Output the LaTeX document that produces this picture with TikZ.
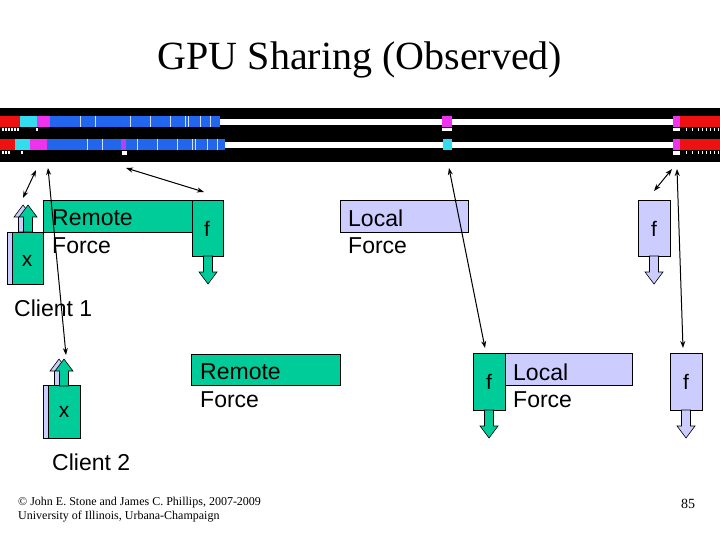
\documentclass[tikz,border=0pt]{standalone}
\usepackage{fontspec}
\setmainfont{Liberation Serif}
\newfontfamily\sansf{Liberation Sans}
\usetikzlibrary{arrows.meta}
\definecolor{grn}{HTML}{00CC99}
\definecolor{lav}{HTML}{CCCCFF}
\definecolor{tblue}{HTML}{2266EE}
\definecolor{tcyan}{HTML}{33DDEE}
\definecolor{tmag}{HTML}{EE33EE}
\definecolor{tred}{HTML}{EE1111}
\begin{document}
\begin{tikzpicture}[x=1pt,y=-1pt,
  box/.style={draw=black,line width=0.6pt},
  lbl/.style={font=\sansf\fontsize{23}{27}\selectfont,inner sep=0pt,anchor=west},
  small/.style={font=\sansf\fontsize{21}{24}\selectfont,inner sep=0pt},
  uparr/.pic={\draw[line width=0.6pt,fill=#1] (0,0)--(9,12)--(4.5,12)--(4.5,27)--(-4.5,27)--(-4.5,12)--(-9,12)--cycle;},
  dnarr/.pic={\draw[line width=0.6pt,fill=#1] (0,0)--(9,-12)--(4.5,-12)--(4.5,-28)--(-4.5,-28)--(-4.5,-12)--(-9,-12)--cycle;},
  link/.style={{Stealth[length=7pt,width=5pt]}-{Stealth[length=7pt,width=5pt]},line width=1pt}]
\useasboundingbox (0,0) rectangle (720,540);

% title
\node[font=\fontsize{40}{44}\selectfont] (title) at (360,60) {GPU Sharing (Observed)};

% timeline band
\fill[black] (0,108) rectangle (720,162);
\fill[white] (0,119) rectangle (720,125);
\fill[white] (0,142) rectangle (720,148);
\fill[tred] (0,116) rectangle (20,127);
\fill[tcyan] (20,116) rectangle (37,127);
\fill[tmag] (37,116) rectangle (50,127);
\fill[tblue] (50,116) rectangle (220,127);
\fill[tred] (0,139) rectangle (15,150);
\fill[tcyan] (15,139) rectangle (30,150);
\fill[tmag] (30,139) rectangle (47,150);
\fill[tblue] (47,139) rectangle (225,150);
\fill[tmag!70!tblue] (121,139) rectangle (126,150);
\fill[tmag] (442,116) rectangle (452,127);
\fill[tcyan] (443,139) rectangle (452,150);
\fill[tmag] (673,116) rectangle (680,127);
\fill[tred] (680,116) rectangle (720,127);
\fill[tmag] (673,139) rectangle (680,150);
\fill[tred] (680,139) rectangle (720,150);
\foreach \t in {80,95,130,150,170,185,188,200,210}
  {\draw[white!80!tblue,line width=0.4pt] (\t,116) -- (\t,127);
   \draw[white!80!tblue,line width=0.4pt] (\t+7,139) -- (\t+7,150);}
\foreach \t in {2,5,8,11,14,17,36}
  \fill[white] (\t,128) rectangle (\t+1.5,131);
\foreach \t in {2,5,8,21}
  \fill[white] (\t,151) rectangle (\t+1.5,154);
\fill[white] (122,151) rectangle (127,155);
\fill[white] (442,128) rectangle (452,131);
\fill[white] (673,128) rectangle (680,131);
\fill[white] (673,151) rectangle (680,155);
\foreach \t in {686,692,698,702,706,710,714,718}
  {\fill[white] (\t,128) rectangle (\t+1,131);
   \fill[white] (\t,151) rectangle (\t+1,154);}

% client 1
\fill[lav,draw=black,line width=0.6pt] (7,232) rectangle (12,284);
\pic at (23,205) {uparr=lav};
\node[box,fill=grn,minimum width=31pt,minimum height=52pt,inner sep=0pt,anchor=north west] (x1) at (12,232) {};
\node[small] at (27,261) {x};
\pic at (28,205) {uparr=grn};
\node[box,fill=grn,minimum width=149pt,minimum height=32pt,inner sep=0pt,anchor=north west] (rf1) at (43,200) {};
\node[lbl] at (52,218) {Remote};
\node[lbl] at (52,246) {Force};
\node[box,fill=grn,minimum width=31pt,minimum height=56pt,inner sep=0pt,anchor=north west] (f1) at (192,200) {};
\node[small] at (207,229) {f};
\pic at (208,284) {dnarr=grn};

\node[box,fill=lav,minimum width=128pt,minimum height=32pt,inner sep=0pt,anchor=north west] (lf1) at (340,200) {};
\node[lbl] at (348,218) {Local};
\node[lbl] at (348,246) {Force};
\node[box,fill=lav,minimum width=32pt,minimum height=56pt,inner sep=0pt,anchor=north west] (f2) at (638,200) {};
\node[small] at (654,229) {f};
\pic at (654,284) {dnarr=lav};

\node[lbl] (c1) at (14,308) {Client 1};

% client 2
\fill[lav,draw=black,line width=0.6pt] (43,385) rectangle (48,438);
\pic at (59,359) {uparr=lav};
\node[box,fill=grn,minimum width=32pt,minimum height=53pt,inner sep=0pt,anchor=north west] (x2) at (48,385) {};
\node[small] at (64,412) {x};
\pic at (64,359) {uparr=grn};
\node[box,fill=grn,minimum width=149pt,minimum height=31pt,inner sep=0pt,anchor=north west] (rf2) at (191,354) {};
\node[lbl] at (200,372) {Remote};
\node[lbl] at (200,400) {Force};

\node[box,fill=grn,minimum width=32pt,minimum height=57pt,inner sep=0pt,anchor=north west] (f3) at (473,353) {};
\node[small] at (489,382) {f};
\pic at (489,438) {dnarr=grn};
\node[box,fill=lav,minimum width=127pt,minimum height=32pt,inner sep=0pt,anchor=north west] (lf2) at (505,353) {};
\node[lbl] at (513,372) {Local};
\node[lbl] at (513,400) {Force};
\node[box,fill=lav,minimum width=32pt,minimum height=57pt,inner sep=0pt,anchor=north west] (f4) at (670,353) {};
\node[small] at (686,382) {f};
\pic at (686,438) {dnarr=lav};

\node[lbl] (c2) at (52,462) {Client 2};

% links between timeline and work items
\coordinate (a1) at (36,170); \coordinate (b1) at (23,198);
\coordinate (a2) at (48,168); \coordinate (b2) at (66,355);
\coordinate (a3) at (126,168); \coordinate (b3) at (204,192);
\coordinate (a4) at (449,168); \coordinate (b4) at (485,348);
\coordinate (a5) at (672,169); \coordinate (b5) at (654,191);
\coordinate (a6) at (677,169); \coordinate (b6) at (683,348);
\foreach \i in {1,...,6} \draw[link] (a\i) -- (b\i);

% footer
\node[font=\fontsize{12}{14}\selectfont,align=left,anchor=west,inner sep=0pt] (ft) at (18,510)
  {\textcopyright{} John E. Stone and James C. Phillips, 2007-2009\\University of Illinois, Urbana-Champaign};
\node[font=\fontsize{14}{16}\selectfont,inner sep=0pt] (pg) at (688,504) {85};
\end{tikzpicture}
\end{document}
